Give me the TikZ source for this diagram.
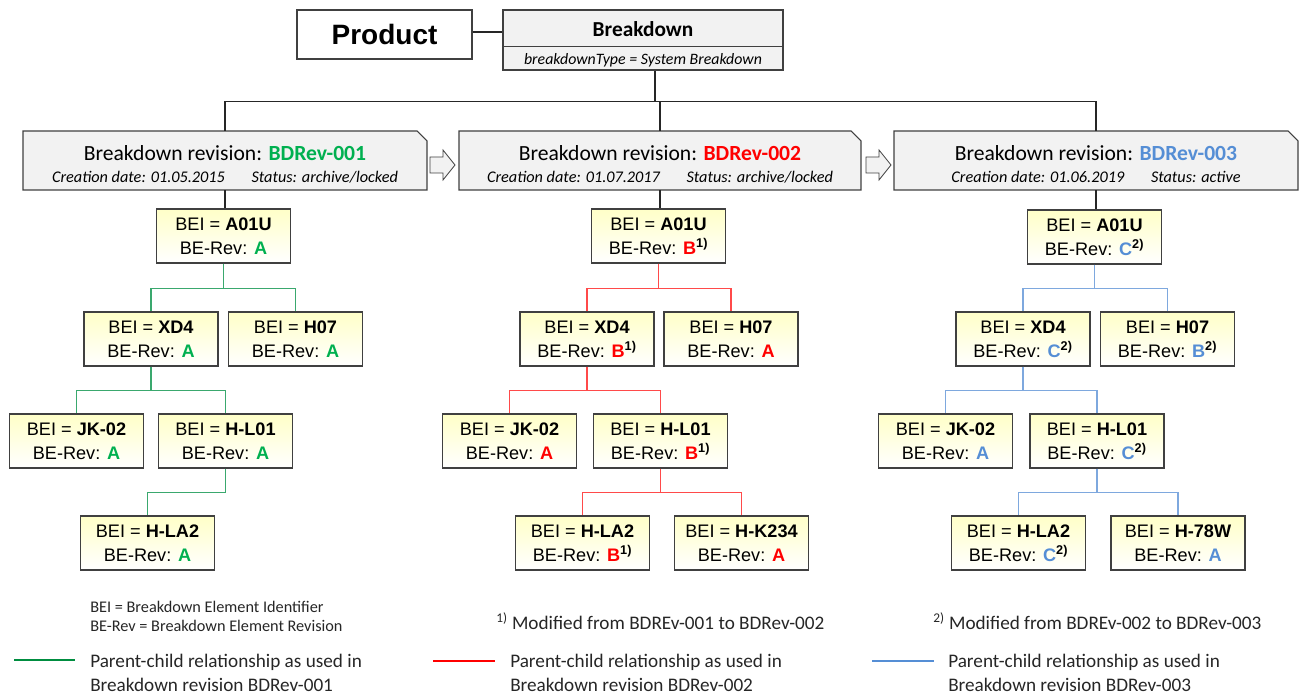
\documentclass[tikz,border=0pt]{standalone}
\usepackage{fontspec}
\setmainfont{Liberation Sans}
\newfontfamily\calib{Carlito}
\usetikzlibrary{calc}
\definecolor{gtext}{HTML}{00B050}
\definecolor{rtext}{HTML}{FF0000}
\definecolor{btext}{HTML}{558ED5}
\definecolor{gline}{HTML}{3AA86E}
\definecolor{rline}{HTML}{FF4A4A}
\definecolor{bline}{HTML}{7EA8DE}
\definecolor{boxgray}{HTML}{F2F2F2}
\definecolor{bordergray}{HTML}{404040}
\definecolor{byellow}{HTML}{FFFFC8}
\newcommand{\bei}[2]{BEI = \textbf{#1}\\[3pt]BE-Rev: #2}
\newcommand{\G}[1]{\textcolor{gtext}{\textbf{#1}}}
\newcommand{\R}[1]{\textcolor{rtext}{\textbf{#1}}}
\newcommand{\Bl}[1]{\textcolor{btext}{\textbf{#1}}}
\newcommand{\fa}{\textsuperscript{\textbf{1)}}}
\newcommand{\fb}{\textsuperscript{\textbf{2)}}}
\tikzset{
  beibox/.style={draw=bordergray, line width=0.8pt, top color=byellow, bottom color=white,
    minimum width=100.5pt, minimum height=40.5pt, align=center, inner sep=0pt,
    font=\fontsize{13.6}{15}\selectfont},
  revbox/.style={minimum width=303pt, minimum height=44.25pt, inner sep=0pt, align=center},
  revshape/.style={draw=bordergray, line width=0.8pt, fill=boxgray},
  glink/.style={draw=gline, line width=0.8pt},
  rlink/.style={draw=rline, line width=0.8pt},
  blink/.style={draw=bline, line width=0.8pt},
  blink2/.style={draw=black!85, line width=0.8pt},
  legtext/.style={anchor=west, align=left, inner sep=0pt, font=\calib\fontsize{14.4}{18}\selectfont, text=black!85},
  blockarrow/.style={draw=bordergray, line width=0.6pt, fill=boxgray},
}
\begin{document}
\begin{tikzpicture}[x=0.75pt,y=-0.75pt]
\useasboundingbox (0,0) rectangle (1306,695);

% top
\node[draw=bordergray, line width=0.8pt, fill=white, minimum width=131.25pt, minimum height=36.75pt, inner sep=0pt,
      font=\fontsize{21}{24}\selectfont\bfseries] (prod) at (384.5,34.5) {Product};
\node[draw=bordergray, line width=0.8pt, fill=boxgray, minimum width=210pt, minimum height=45pt, inner sep=0pt] (bd) at (643,40) {};
\draw[bordergray, line width=0.6pt] ($(bd.west)+(0,6)$) -- ($(bd.east)+(0,6)$);
\node[font=\calib\fontsize{16}{18}\selectfont\bfseries, inner sep=0pt] (bdt) at (643,29) {Breakdown};
\node[font=\calib\itshape\fontsize{11.9}{13}\selectfont, inner sep=0pt] (bds) at (643,60) {breakdownType = System Breakdown};
\draw[blink2] (prod.east |- 0,32) coordinate (pe) -- (pe -| bd.west);
\coordinate (bdo) at ($(bd.south)+(12,0)$);

% revision boxes
\foreach \cx/\w in {225/404, 660/402, 1096/404}{
  \draw[revshape] (\cx-\w/2,131) -- (\cx+\w/2-10,131) -- (\cx+\w/2,141) -- (\cx+\w/2,190) -- (\cx-\w/2,190) -- cycle;
}
\node[revbox] (rev1) at (225,160.5) {};
\node[revbox] (rev2) at (660,160.5) {};
\node[revbox] (rev3) at (1096,160.5) {};
\node[align=center, inner sep=0pt] (rev1t) at (225,164) {{\calib\fontsize{16.2}{18}\selectfont Breakdown revision: \textcolor{gtext}{\textbf{BDRev-001}}}\\[4.5pt]
  {\calib\itshape\fontsize{12.2}{13}\selectfont Creation date: 01.05.2015\hspace{20pt}Status: archive/locked}};
\node[align=center, inner sep=0pt] (rev2t) at (660,164) {{\calib\fontsize{16.2}{18}\selectfont Breakdown revision: \textcolor{rtext}{\textbf{BDRev-002}}}\\[4.5pt]
  {\calib\itshape\fontsize{12.2}{13}\selectfont Creation date: 01.07.2017\hspace{20pt}Status: archive/locked}};
\node[align=center, inner sep=0pt] (rev3t) at (1096,164) {{\calib\fontsize{16.2}{18}\selectfont Breakdown revision: \textcolor{btext}{\textbf{BDRev-003}}}\\[4.5pt]
  {\calib\itshape\fontsize{12.2}{13}\selectfont Creation date: 01.06.2019\hspace{20pt}Status: active}};

% block arrows
\foreach \ax in {430,866}{
  \draw[blockarrow] (\ax,157) -- (\ax+13,157) -- (\ax+13,150) -- (\ax+25,165) -- (\ax+13,180) -- (\ax+13,173) -- (\ax,173) -- cycle;
}

\draw[blink2] (bdo) -- ++(0,31) coordinate (hub) -| (rev1.north);
\draw[blink2] (hub) -| (rev2.north);
\draw[blink2] (hub) -| (rev3.north);

% column 1
\node[beibox] (g1) at (223.5,236) {\bei{A01U}{\G{A}}};
\node[beibox] (g2) at (151,339) {\bei{XD4}{\G{A}}};
\node[beibox] (g3) at (295.5,339) {\bei{H07}{\G{A}}};
\node[beibox] (g4) at (76.5,441) {\bei{JK-02}{\G{A}}};
\node[beibox] (g5) at (225.5,441) {\bei{H-L01}{\G{A}}};
\node[beibox] (g6) at (147.5,543) {\bei{H-LA2}{\G{A}}};
\draw[blink2] (rev1.south) -- (rev1.south |- g1.north);
\draw[glink] (g1.south) -- ++(0,25) -| (g2.north);
\draw[glink] (g1.south) -- ++(0,25) -| (g3.north);
\draw[glink] (g2.south) -- ++(0,24) -| (g4.north);
\draw[glink] (g2.south) -- ++(0,24) -| (g5.north);
\draw[glink] (g5.south) -- ++(0,24) -| (g6.north);

% column 2
\node[beibox] (r1) at (658.5,236) {\bei{A01U}{\R{B}\fa}};
\node[beibox] (r2) at (587,339) {\bei{XD4}{\R{B}\fa}};
\node[beibox] (r3) at (731,339) {\bei{H07}{\R{A}}};
\node[beibox] (r4) at (509.5,441) {\bei{JK-02}{\R{A}}};
\node[beibox] (r5) at (660.5,441) {\bei{H-L01}{\R{B}\fa}};
\node[beibox] (r6) at (582.5,543) {\bei{H-LA2}{\R{B}\fa}};
\node[beibox] (r7) at (741.5,543) {\bei{H-K234}{\R{A}}};
\draw[blink2] (rev2.south) -- (rev2.south |- r1.north);
\draw[rlink] (r1.south) -- ++(0,25) -| (r2.north);
\draw[rlink] (r1.south) -- ++(0,25) -| (r3.north);
\draw[rlink] (r2.south) -- ++(0,24) -| (r4.north);
\draw[rlink] (r2.south) -- ++(0,24) -| (r5.north);
\draw[rlink] (r5.south) -- ++(0,24) -| (r6.north);
\draw[rlink] (r5.south) -- ++(0,24) -| (r7.north);

% column 3
\node[beibox] (b1) at (1094.5,237) {\bei{A01U}{\Bl{C}\fb}};
\node[beibox] (b2) at (1023,339) {\bei{XD4}{\Bl{C}\fb}};
\node[beibox] (b3) at (1167.5,339) {\bei{H07}{\Bl{B}\fb}};
\node[beibox] (b4) at (945.5,441) {\bei{JK-02}{\Bl{A}}};
\node[beibox] (b5) at (1097,441) {\bei{H-L01}{\Bl{C}\fb}};
\node[beibox] (b6) at (1018.5,543) {\bei{H-LA2}{\Bl{C}\fb}};
\node[beibox] (b7) at (1178,543) {\bei{H-78W}{\Bl{A}}};
\draw[blink2] (rev3.south) -- (rev3.south |- b1.north);
\draw[blink] (b1.south) -- ++(0,24) -| (b2.north);
\draw[blink] (b1.south) -- ++(0,24) -| (b3.north);
\draw[blink] (b2.south) -- ++(0,24) -| (b4.north);
\draw[blink] (b2.south) -- ++(0,24) -| (b5.north);
\draw[blink] (b5.south) -- ++(0,24) -| (b6.north);
\draw[blink] (b5.south) -- ++(0,24) -| (b7.north);

% legend
\node[legtext, font=\calib\fontsize{12.2}{14.3}\selectfont] (abbr) at (90,616) {BEI = Breakdown Element Identifier\\BE-Rev = Breakdown Element Revision};
\node[legtext] (fn1) at (496,621) {\textsuperscript{1)} Modified from BDREv-001 to BDRev-002};
\node[legtext] (fn2) at (933,621) {\textsuperscript{2)} Modified from BDREv-002 to BDRev-003};
\node[legtext] (lg1) at (90,673) {Parent-child relationship as used in\\Breakdown revision BDRev-001};
\node[legtext] (lg2) at (510,673) {Parent-child relationship as used in\\Breakdown revision BDRev-002};
\node[legtext] (lg3) at (948,673) {Parent-child relationship as used in\\Breakdown revision BDRev-003};
\coordinate (lga) at (14,660);  \coordinate (lgb) at (75,660);
\coordinate (lra) at (433,661); \coordinate (lrb) at (495,661);
\coordinate (lba) at (872,661); \coordinate (lbb) at (934,661);
\draw[draw=gtext!80!black, line width=1pt] (lga) -- (lgb);
\draw[draw=rtext, line width=1pt] (lra) -- (lrb);
\draw[draw=btext, line width=1pt] (lba) -- (lbb);
\end{tikzpicture}
\end{document}
